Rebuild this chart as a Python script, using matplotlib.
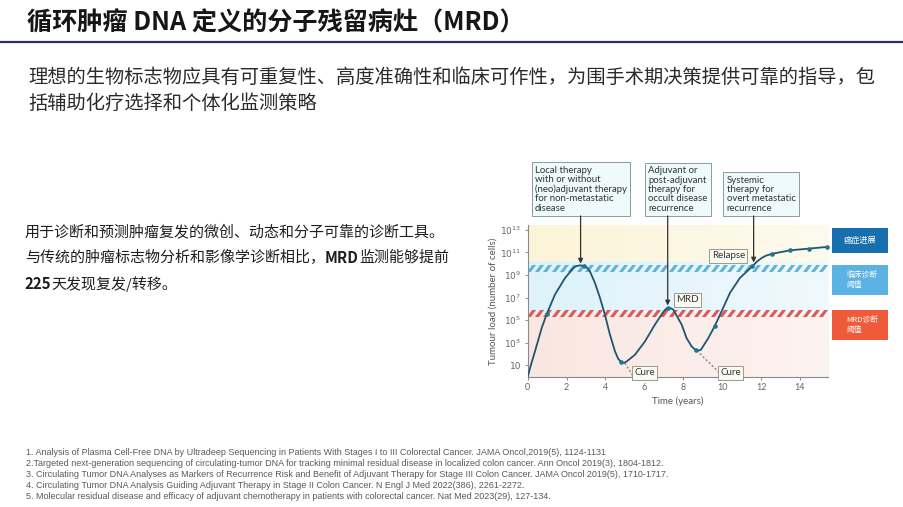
import numpy as np
import matplotlib
matplotlib.use("Agg")
import matplotlib.pyplot as plt
from matplotlib.lines import Line2D
from matplotlib.patches import Rectangle
from matplotlib.ticker import NullLocator

W, H = 904, 507
CJK = ["Noto Sans CJK SC", "DejaVu Sans"]
LAT = ["Lato", "DejaVu Sans"]

title = "循环肿瘤 DNA 定义的分子残留病灶（MRD）"
intro_lines = [
    "理想的生物标志物应具有可重复性、高度准确性和临床可作性，为围手术期决策提供可靠的指导，包",
    "括辅助化疗选择和个体化监测策略",
]
note_lines = [
    [("用于诊断和预测肿瘤复发的微创、动态和分子可靠的诊断工具。", "normal")],
    [("与传统的肿瘤标志物分析和影像学诊断相比，", "normal"), ("MRD", "bold"), ("监测能够提前", "normal")],
    [("225", "bold"), ("天发现复发/转移。", "normal")],
]
refs = [
    "1. Analysis of Plasma Cell-Free DNA by Ultradeep Sequencing in Patients With Stages I to III Colorectal Cancer. JAMA Oncol,2019(5), 1124-1131",
    "2.Targeted next-generation sequencing of circulating-tumor DNA for tracking minimal residual disease in localized colon cancer. Ann Oncol 2019(3), 1804-1812.",
    "3. Circulating Tumor DNA Analyses as Markers of Recurrence Risk and Benefit of Adjuvant Therapy for Stage III Colon Cancer. JAMA Oncol 2019(5), 1710-1717.",
    "4. Circulating Tumor DNA Analysis Guiding Adjuvant Therapy in Stage II Colon Cancer. N Engl J Med 2022(386), 2261-2272.",
    "5. Molecular residual disease and efficacy of adjuvant chemotherapy in patients with colorectal cancer. Nat Med 2023(29), 127-134.",
]

# tumour load curve: time in years, log10(number of cells)
curve_t = [0, 0.2, 0.375, 0.72, 0.98, 1.4, 1.92, 2.35, 2.5, 2.69, 2.91, 3.05, 3.2, 3.46,
           3.72, 3.97, 4.23, 4.49, 4.65, 4.8, 4.95, 5.09, 5.52, 6.03, 6.54, 6.97, 7.1,
           7.23, 7.35, 7.49, 7.92, 8.17, 8.43, 8.65, 8.8, 8.91, 9.29, 9.63, 9.97, 10.4,
           10.91, 11.55, 11.8, 12.03, 12.25, 12.54, 13.49, 14.46, 15.4]
curve_log = [0.0, 1.25, 2.24, 4.31, 5.55, 7.26, 8.73, 9.62, 9.78, 9.85, 9.8, 9.65, 9.32, 8.29,
             6.96, 5.49, 3.72, 2.24, 1.6, 1.3, 1.22, 1.35, 1.95, 3.12, 4.6, 5.72, 5.98,
             6.08, 6.06, 5.93, 4.6, 3.42, 2.68, 2.33, 2.32, 2.39, 3.42, 4.51, 5.78, 7.41,
             8.73, 9.76, 10.2, 10.5, 10.7, 10.86, 11.18, 11.33, 11.48]
marker_t = [0.98, 2.91, 4.8, 7.23, 8.65, 9.63, 11.55, 12.54, 13.49, 14.46, 15.4]
marker_log = [5.55, 9.8, 1.3, 6.08, 2.33, 4.51, 9.76, 10.86, 11.18, 11.33, 11.48]
cure_t = [[5.0, 5.4], [8.7, 9.8]]
cure_log = [[1.2, 0.1], [2.3, 0.45]]

clinical_level = 9.6
mrd_level = 5.65

therapy_text = [
    "Local therapy\nwith or without\n(neo)adjuvant therapy\nfor non-metastatic\ndisease",
    "Adjuvant or\npost-adjuvant\ntherapy for\noccult disease\nrecurrence",
    "Systemic\ntherapy for\novert metastatic\nrecurrence",
]
therapy_left = [0.2, 6.03, 10.06]
therapy_x = [2.72, 7.2, 11.62]
therapy_target = [10.0, 6.3, 10.1]

tag_text = ["Relapse", "MRD", "Cure", "Cure"]
tag_x = [10.32, 8.22, 6.02, 10.44]
tag_log = [10.7, 6.81, 0.35, 0.35]

legend_text = ["癌症进展", "临床诊断\n阈值", "MRD诊断\n阈值"]
legend_color = ["#176fae", "#5cb3e3", "#ef5a3b"]
legend_top = [228.3, 265, 310]
legend_bottom = [253.3, 295, 340]

ytick_exp = [1, 3, 5, 7, 9, 11, 13]
xticks = [0, 2, 4, 6, 8, 10, 12, 14]

fig = plt.figure(figsize=(W / 100, H / 100), dpi=100)
renderer = fig.canvas.get_renderer()


def fit(t, width_px):
    w = t.get_window_extent(renderer).width
    t.set_fontsize(t.get_fontsize() * width_px / w)


def fx(x):
    return x / W


def fy(y):
    return 1 - y / H


# header
fig.add_artist(Line2D([0, 1], [fy(42), fy(42)], color="#2b2d75", lw=1.6))
t = fig.text(fx(27), fy(23), title, fontsize=18, weight="bold", family=CJK,
             va="center", color="#161616")
fit(t, 498)

size = None
for i, line in enumerate(intro_lines):
    t = fig.text(fx(28), fy(77 + 26 * i), line, fontsize=14, family=CJK,
                 va="center", color="#2a2a2a")
    if i == 0:
        fit(t, 850)
        size = t.get_fontsize()
    else:
        t.set_fontsize(size)

# left note with bold runs
for i, runs in enumerate(note_lines):
    x = 25
    for s, w in runs:
        t = fig.text(fx(x), fy(231.5 + 26.3 * i), s, fontsize=10.8, weight=w,
                     family=CJK, va="center", color="#1e1e1e")
        x += t.get_window_extent(renderer).width

# references
ref_y = [452.7, 463.5, 474.2, 485.1, 496.2]
t = fig.text(fx(26), fy(ref_y[0]), refs[0], fontsize=6, family="Liberation Sans",
             va="center", color="#5a5a5a")
fit(t, 586)
ref_size = t.get_fontsize()
for i, s in enumerate(refs[1:], start=1):
    fig.text(fx(26), fy(ref_y[i]), s, fontsize=ref_size, family="Liberation Sans",
             va="center", color="#5a5a5a")

# chart
ax = fig.add_axes([fx(527.7), fy(376.7), (828.5 - 527.7) / W, (376.7 - 225) / H])
ax.set_yscale("log")

top = 13.42
gy = np.linspace(0, top, 300)[:, None]
gx = np.linspace(0, 1, 300)[None, :]
zone = np.where(gy > 10.2, 0, np.where(gy > 5.7, 1, 2))
zone_rgb = np.array([[252, 244, 216], [222, 242, 250], [250, 230, 224]]) / 255
base = zone_rgb[zone[:, 0]][:, None, :]
img = 1 - (1 - base) * (1 - 0.55 * gx)[..., None]
ax.imshow(img, extent=[0, 1, 0, 1], transform=ax.transAxes, origin="lower",
          aspect="auto", zorder=0, interpolation="bilinear")

# slanted dashes for the two thresholds
stripe = [(-1.3, -1), (-0.2, -1), (1.3, 1), (0.2, 1), (-1.3, -1)]
sx = np.arange(0.15, 15.4, 0.43)
ax.plot(sx, np.full(sx.shape, 10 ** clinical_level), ls="none", marker=stripe,
        ms=6.6, mew=0, color="#62b4d6", zorder=2)
ax.plot(sx, np.full(sx.shape, 10 ** mrd_level), ls="none", marker=stripe,
        ms=6.6, mew=0, color="#d95b5b", zorder=2)

for ct, cl in zip(cure_t, cure_log):
    ax.plot(ct, 10 ** np.array(cl), ls=(0, (1.5, 1.5)), color="#6f8d98", lw=1,
            clip_on=False, zorder=3)
ax.plot(curve_t, 10 ** np.array(curve_log), color="#1f5670", lw=1.3, zorder=4)
ax.plot(marker_t, 10 ** np.array(marker_log), "o", color="#1d7594", ms=3.3,
        mew=0, zorder=5, clip_on=False)

box_base = 10 ** 14.22
for s, left, x, tgt in zip(therapy_text, therapy_left, therapy_x, therapy_target):
    ax.annotate("", xy=(x, 10 ** tgt), xytext=(x, box_base),
                arrowprops=dict(arrowstyle="-|>", color="#333333", lw=0.9,
                                mutation_scale=7, shrinkA=0, shrinkB=0),
                annotation_clip=False, zorder=6)
    ax.annotate(s, xy=(left, box_base), xytext=(2.4, 2.4), textcoords="offset points",
                ha="left", va="bottom", fontsize=6.9, family=LAT, color="#333333",
                linespacing=1.05, annotation_clip=False,
                bbox=dict(boxstyle="square,pad=0.35", fc="#eefafc", ec="#8b9a9e", lw=0.7))

for s, x, lv in zip(tag_text, tag_x, tag_log):
    ax.text(x, 10 ** lv, s, ha="center", va="center", fontsize=7, family=LAT,
            color="#333333", clip_on=False, zorder=7,
            bbox=dict(boxstyle="square,pad=0.25", fc="#fbfaf2", ec="#9a9a8a", lw=0.7))

ax.set_xlim(0, 15.47)
ax.set_ylim(1, 10 ** top)
ax.set_xticks(xticks)
ax.set_yticks([10.0 ** e for e in ytick_exp])
ax.set_yticklabels(["10" if e == 1 else r"$10^{%d}$" % e for e in ytick_exp])
ax.yaxis.set_minor_locator(NullLocator())
for side in ["top", "right"]:
    ax.spines[side].set_visible(False)
for side in ["left", "bottom"]:
    ax.spines[side].set_color("#8a8a8a")
    ax.spines[side].set_linewidth(0.8)
ax.tick_params(labelsize=6.5, colors="#777777", labelcolor="#666666", length=2.5,
               width=0.6, pad=2)
for lab in ax.get_xticklabels():
    lab.set_family(LAT)
ax.set_xlabel("Time (years)", fontsize=7, family=LAT, color="#555555", labelpad=3)
ax.set_ylabel("Tumour load (number of cells)", fontsize=7, family=LAT,
              color="#555555", labelpad=2)

# colour key on the right
for s, c, t0, t1 in zip(legend_text, legend_color, legend_top, legend_bottom):
    fig.add_artist(Rectangle((fx(831.7), fy(t1)), (888.3 - 831.7) / W, (t1 - t0) / H,
                             transform=fig.transFigure, fc=c, ec="none"))
    if "\n" in s:
        fig.text(fx(846), fy((t0 + t1) / 2), s, fontsize=5.6, family=CJK, color="white",
                 ha="left", va="center", linespacing=1.45)
    else:
        fig.text(fx(860), fy((t0 + t1) / 2), s, fontsize=5.9, family=CJK, color="white",
                 ha="center", va="center")

fig.savefig("out.png", dpi=100)
